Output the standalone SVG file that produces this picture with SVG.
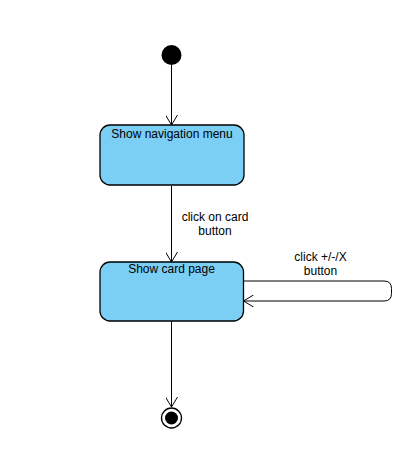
<svg xmlns="http://www.w3.org/2000/svg" width="412" height="457" viewBox="0 0 412 457">
<defs>
<style>
.state{fill:#7BCEF4;stroke:#000;stroke-width:1.3}
.edge{fill:none;stroke:#000;stroke-width:1}
.lbl{font-family:"Liberation Sans",Arial,sans-serif;font-size:12px;fill:#000;text-anchor:middle}
</style>
<marker id="open" viewBox="0 0 10 12" refX="10" refY="6" markerWidth="10" markerHeight="12" markerUnits="userSpaceOnUse" orient="auto">
<path d="M0,0 L10,6 L0,12" fill="none" stroke="#000" stroke-width="1"/>
</marker>
</defs>
<rect width="412" height="457" fill="#fff"/>
<g id="connectors">
<path class="edge" d="M171.5,65 V125" marker-end="url(#open)"/>
<path class="edge" d="M171.5,186 V262" marker-end="url(#open)"/>
<path class="edge" d="M243.5,281 H384 Q391.5,281 391.5,288.5 V293.5 Q391.5,301 384,301 H243.5" marker-end="url(#open)"/>
<path class="edge" d="M171.5,321 V407" marker-end="url(#open)"/>
<text class="lbl" x="215" y="221">click on card</text>
<text class="lbl" x="215" y="235">button</text>
<text class="lbl" x="320.5" y="261">click +/-/X</text>
<text class="lbl" x="320.5" y="275">button</text>
</g>
<g id="start">
<circle cx="171.5" cy="55" r="10" fill="#000"/>
</g>
<g id="navmenu">
<rect class="state" x="100" y="125" width="144" height="60" rx="10"/>
<text class="lbl" x="172" y="137.5">Show navigation menu</text>
</g>
<g id="cardpage">
<rect class="state" x="100" y="262" width="143.5" height="59" rx="10"/>
<text class="lbl" x="171.5" y="273">Show card page</text>
</g>
<g id="end">
<circle cx="171.5" cy="418" r="10" fill="#fff" stroke="#000" stroke-width="1.3"/>
<circle cx="171.5" cy="418" r="6.5" fill="#000"/>
</g>
</svg>
